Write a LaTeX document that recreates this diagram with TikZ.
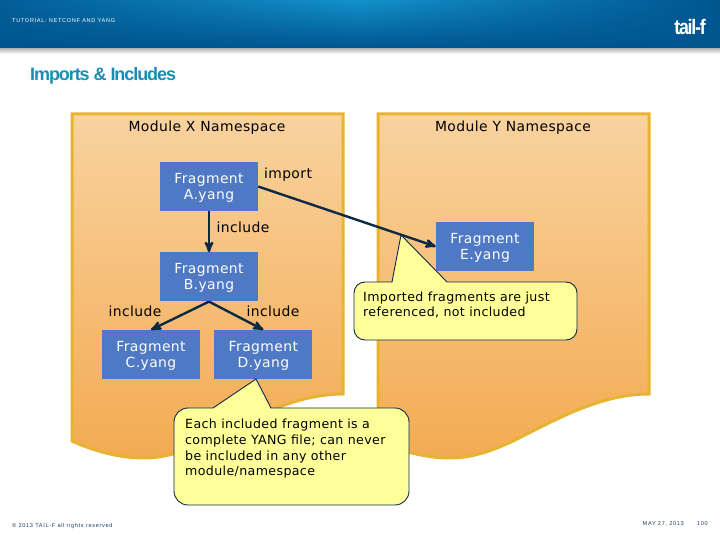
\documentclass[tikz,border=0pt]{standalone}
\usepackage{fontspec}
\setmainfont[LetterSpace=3]{DejaVu Sans}
\newfontfamily\titlefont[LetterSpace=-6]{Liberation Sans}
\newfontfamily\logofont[LetterSpace=-6,FakeStretch=0.85]{Liberation Sans}
\newfontfamily\smallfont[LetterSpace=12]{Liberation Sans}
\usetikzlibrary{positioning,arrows,fadings}
\definecolor{hdrdark}{HTML}{00558F}
\definecolor{hdrlight}{HTML}{1492CB}
\definecolor{titleblue}{HTML}{1A8DB4}
\definecolor{sheettop}{HTML}{F9D29F}
\definecolor{sheetbottom}{HTML}{F3AB52}
\definecolor{sheetline}{HTML}{E8B32E}
\definecolor{fragblue}{HTML}{4F79C4}
\definecolor{notefill}{HTML}{FFFF99}
\definecolor{linknavy}{HTML}{0C2A44}
\definecolor{footblue}{HTML}{1B3F63}
\newcommand{\sheetoutline}{(72,114) -- (343,114) -- (343,394) .. controls (294,394) and (249,420) .. (207,441) .. controls (184,452) and (164,458) .. (144,458) .. controls (119,458) and (94,451) .. (72,441) -- cycle}
\newcommand{\fragname}[1]{\rule{0pt}{12.5pt}Fragment\\#1.yang}

\begin{document}
\begin{tikzpicture}[
        x=1pt,
        y=-1pt,
        fragment/.style = {
                rectangle,
                fill=fragblue,
                text=white,
                align=center,
                inner sep=0pt,
                minimum width = 98pt,
                minimum height = 49pt,
                font=\fontsize{13.9}{16}\selectfont
            },
        sheet/.style = {
                draw=sheetline,
                line width=3pt,
                top color=sheettop,
                bottom color=sheetbottom
            },
        note/.style = {draw=linknavy, fill=notefill, line width=0.9pt},
        notetext/.style = {anchor=north west, align=left, inner sep=0pt, font=\fontsize{12.6}{15.7}\selectfont},
        heading/.style = {font=\fontsize{13.9}{16}\selectfont},
        relation/.style = {font=\fontsize{13.9}{16}\selectfont},
        tinytext/.style = {inner sep=0pt, text=footblue, font=\smallfont\fontsize{5.6}{7}\selectfont},
        link/.style = {->, draw=linknavy, line width=2.4pt},
        >= stealth'
    ]
    \useasboundingbox (0,0) rectangle (720,540);

    % header band
    \shade[top color=black!35, bottom color=white] (0,47) rectangle (720,54);
    \shade[left color=hdrdark!85!hdrlight, right color=hdrdark, middle color=hdrlight] (0,0) rectangle (720,48);
    \fill[hdrdark, path fading=north] (0,0) rectangle (720,48);
    \node[tinytext, anchor=west, text=white] (tutorial) at (12,21) {TUTORIAL: NETCONF AND YANG};
    \node[inner sep=0pt, text=white, font=\logofont\bfseries\fontsize{21}{24}\selectfont] (logo) at (690,27) {tail-f};
    \node[anchor=west, inner sep=0pt, text=titleblue, font=\titlefont\bfseries\fontsize{18}{22}\selectfont] (title) at (30,75.5) {Imports \& Includes};

    % the two namespaces
    \path[sheet] \sheetoutline;
    \begin{scope}[xshift=306pt]
        \path[sheet] \sheetoutline;
    \end{scope}
    \node[heading] (modulex) at (207,128) {Module X Namespace};
    \node[heading] (moduley) at (513,128) {Module Y Namespace};

    % notes go under the fragments
    \draw[note, rounded corners=11pt] (354,311) -- (354,282)
        [sharp corners] -- (392,282) -- (401,235) -- (447,282)
        [rounded corners=11pt] -- (577,282) -- (577,340) -- (354,340) -- cycle;
    \node[notetext] (importnote) at (363,291.3) {Imported fragments are just\\referenced, not included};

    \node[fragment] (fraga) at (209,186.5) {\fragname{A}};
    \node[fragment] (fragb) [below=41pt of fraga] {\fragname{B}};
    \node[fragment] (fragc) at (151,354.5) {\fragname{C}};
    \node[fragment] (fragd) [right=14pt of fragc] {\fragname{D}};
    \node[fragment] (frage) at (485,246.5) {\fragname{E}};

    \draw[note, rounded corners=14pt] (174,456) -- (174,408)
        [sharp corners] -- (213,408) -- (256,379) -- (271,408)
        [rounded corners=14pt] -- (409,408) -- (409,505) -- (174,505) -- cycle;
    \node[notetext] (includenote) at (185,419) {Each included fragment is a\\complete YANG file; can never\\be included in any other\\module/namespace};

    \draw[link] (fraga.east) -- (frage.west);
    \draw[link] (fraga) -- (fragb);
    \draw[link] (fragb.south) -- (fragc.north);
    \draw[link] (fragb.south) -- (fragd.north);

    \node[relation] (importlabel) at (288,175) {import};
    \node[relation] (includeab) at (243,227) {include};
    \node[relation] (includebc) at (135,311) {include};
    \node[relation] (includebd) at (273,311) {include};

    % footer
    \node[tinytext, anchor=west] (copyright) at (12,526) {© 2013 TAIL-F all rights reserved};
    \node[tinytext, anchor=east] (footdate) at (684,524) {MAY 27, 2013};
    \node[tinytext, anchor=east] (pagenum) at (708,524) {100};
\end{tikzpicture}
\end{document}
